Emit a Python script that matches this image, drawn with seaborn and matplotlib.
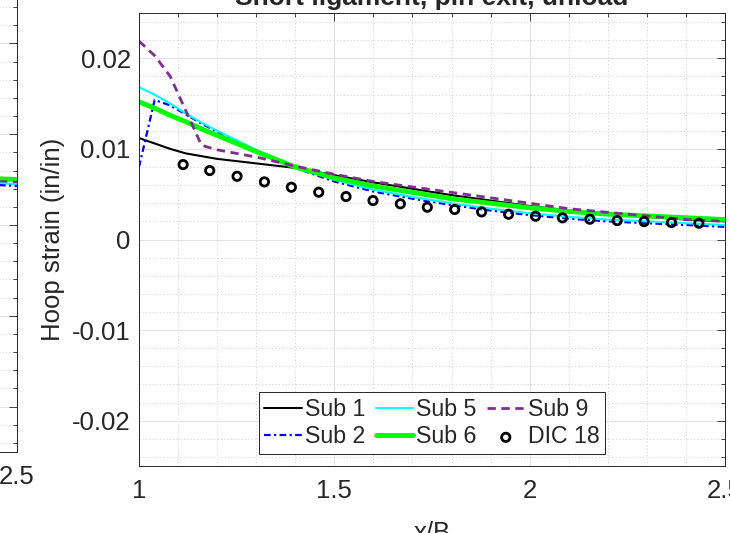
import numpy as np
import pandas as pd
import matplotlib
matplotlib.use("Agg")
import matplotlib.pyplot as plt
import seaborn as sns
from matplotlib.ticker import MultipleLocator, FuncFormatter

# 曲线数据 (x/B, 环向应变)
x_sub = [1.0, 1.04, 1.08, 1.12, 1.16, 1.2, 1.3, 1.4, 1.5, 1.6, 1.7, 1.8, 1.9,
         2.0, 2.1, 2.2, 2.3, 2.4, 2.5]
sub1 = [0.0112, 0.0106, 0.0100, 0.0095, 0.0092, 0.0089, 0.0084, 0.0079, 0.0071,
        0.0063, 0.0056, 0.0049, 0.0043, 0.0037, 0.0032, 0.0028, 0.0025, 0.0022, 0.0020]
sub2 = [0.0080, 0.0154, 0.0148, 0.0138, 0.0128, 0.0119, 0.0098, 0.0079, 0.0064,
        0.0053, 0.0045, 0.0038, 0.0032, 0.0027, 0.0023, 0.0020, 0.0018, 0.0016, 0.0014]
sub5 = [0.0168, 0.0160, 0.0150, 0.0139, 0.0129, 0.0120, 0.0099, 0.0080, 0.0066,
        0.0055, 0.0047, 0.0040, 0.0034, 0.0029, 0.0025, 0.0022, 0.0020, 0.0018, 0.0016]
sub6 = [0.0152, 0.0145, 0.0137, 0.0130, 0.0122, 0.0115, 0.0097, 0.0080, 0.0068,
        0.0059, 0.0052, 0.0045, 0.0040, 0.0035, 0.0031, 0.0028, 0.0026, 0.0024, 0.0022]
sub9 = [0.0219, 0.0203, 0.0180, 0.0142, 0.0104, 0.0099, 0.0091, 0.0081, 0.0072,
        0.0064, 0.0058, 0.0052, 0.0046, 0.0040, 0.0034, 0.0030, 0.0026, 0.0022, 0.0020]

# DIC 18 测点
x_dic = [1.113, 1.181, 1.251, 1.321, 1.390, 1.460, 1.530, 1.599, 1.669, 1.738,
         1.808, 1.877, 1.946, 2.015, 2.084, 2.154, 2.224, 2.293, 2.363, 2.433]
dic18 = [0.00827, 0.00761, 0.00698, 0.00636, 0.00577, 0.00522, 0.00474, 0.00430,
         0.00394, 0.00356, 0.00331, 0.00305, 0.00279, 0.00257, 0.00239, 0.00224,
         0.00209, 0.00198, 0.00187, 0.00180]

# 左侧子图 (只露出右端)
x_left = [2.4, 2.5]
left_sub2 = [0.0045, 0.0043]
left_sub5 = [0.0047, 0.0045]
left_sub6 = [0.0052, 0.0050]
left_sub9 = [0.0049, 0.0047]

sns.set_style("white")
plt.rcParams['font.family'] = ['Liberation Sans', 'DejaVu Sans']
plt.rcParams['axes.unicode_minus'] = False

W, H = 730, 533
fig = plt.figure(figsize=(W / 100, H / 100), dpi=100)


def px_axes(l, t, r, b):
    return fig.add_axes([l / W, 1 - b / H, (r - l) / W, (b - t) / H])


def style_axes(ax):
    ax.set_xlim(1, 2.5)
    ax.set_ylim(-0.025, 0.025)
    ax.xaxis.set_major_locator(MultipleLocator(0.5))
    ax.xaxis.set_minor_locator(MultipleLocator(0.1))
    ax.yaxis.set_major_locator(MultipleLocator(0.01))
    ax.yaxis.set_minor_locator(MultipleLocator(0.002))
    ax.xaxis.set_major_formatter(FuncFormatter(lambda v, p: '%g' % round(v, 4)))
    ax.yaxis.set_major_formatter(FuncFormatter(lambda v, p: '%g' % round(v, 4)))
    ax.grid(which='major', color='#e4e4e4', lw=0.8, ls='-')
    ax.grid(which='minor', color='#cfcfcf', lw=0.7, ls=(0, (1, 2.5)))
    ax.set_axisbelow(True)
    ax.tick_params(which='both', direction='in', top=True, right=True,
                   colors='#262626', labelsize=18.5, width=0.6)
    ax.tick_params(which='major', length=6, pad=6)
    ax.tick_params(axis='x', which='major', pad=9.5)
    ax.tick_params(which='minor', length=3)
    for s in ax.spines.values():
        s.set_color('#262626')
        s.set_linewidth(0.7)


axL = px_axes(17 - 586, -2, 17, 452)
style_axes(axL)
sns.lineplot(x=x_left, y=left_sub6, ax=axL, color='#00ff00', lw=3.5)
sns.lineplot(x=x_left, y=left_sub9, ax=axL, color='#7e2f8e', lw=2, linestyle=(0, (3, 2)))
sns.lineplot(x=x_left, y=left_sub5, ax=axL, color='#00ffff', lw=1.5)
sns.lineplot(x=x_left, y=left_sub2, ax=axL, color='#0000ff', lw=1.6,
             linestyle=(0, (3, 1.5, 1, 1.5)))

ax = px_axes(139, 13, 725, 466)
style_axes(ax)

sns.lineplot(x=x_sub, y=sub1, ax=ax, color='black', lw=1.5, label='Sub 1')
sns.lineplot(x=x_sub, y=sub2, ax=ax, color='#0000ff', lw=1.6,
             linestyle=(0, (3, 1.5, 1, 1.5)), label='Sub 2')
sns.lineplot(x=x_sub, y=sub5, ax=ax, color='#00ffff', lw=1.5, label='Sub 5')
sns.lineplot(x=x_sub, y=sub6, ax=ax, color='#00ff00', lw=3.5, label='Sub 6')
sns.lineplot(x=x_sub, y=sub9, ax=ax, color='#7e2f8e', lw=2,
             linestyle=(0, (3, 2)), label='Sub 9')
sns.scatterplot(x=x_dic, y=dic18, ax=ax, marker='o', s=36, facecolors='none',
                edgecolors='black', linewidths=2, label='DIC 18', zorder=5)

ax.set_title('Short ligament, pin exit, unload', fontsize=19, fontweight='bold', pad=5.5)
ax.set_xlabel('x/B', fontsize=18.5, color='#262626', labelpad=12.5)
ax.set_ylabel('Hoop strain (in/in)', fontsize=18.5, color='#262626', labelpad=5)

handles, labels = ax.get_legend_handles_labels()
leg = ax.legend(handles, labels, ncol=3, loc='lower center', bbox_to_anchor=(0.5, 0.026),
                fontsize=16.7, frameon=True, fancybox=False, framealpha=1,
                edgecolor='#262626', handlelength=1.6, handletextpad=0.15,
                columnspacing=0.45, labelspacing=0.2, borderpad=0.25,
                borderaxespad=0)
leg.get_frame().set_linewidth(0.7)

fig.savefig('out.png', dpi=100)
